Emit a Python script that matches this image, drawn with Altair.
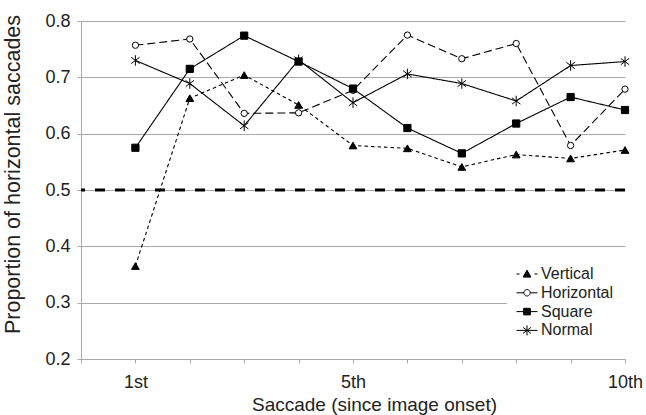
import math
import altair as alt
import pandas as pd

# ---------------- data ----------------
saccade = [1, 2, 3, 4, 5, 6, 7, 8, 9, 10]
series_names = ["Vertical", "Horizontal", "Square", "Normal"]
vertical = [0.365, 0.663, 0.704, 0.651, 0.579, 0.574, 0.541, 0.563, 0.556, 0.571]
horizontal = [0.757, 0.768, 0.636, 0.637, 0.677, 0.775, 0.733, 0.760, 0.579, 0.679]
square = [0.575, 0.715, 0.774, 0.728, 0.680, 0.610, 0.565, 0.618, 0.665, 0.642]
normal = [0.730, 0.689, 0.614, 0.731, 0.655, 0.706, 0.689, 0.658, 0.721, 0.728]
x_tick_values = [0, 1, 2, 3, 4, 5, 6, 7, 8, 9, 10]
x_tick_labels = {1: "1st", 5: "5th", 10: "10th"}
y_tick_values = [0.2, 0.3, 0.4, 0.5, 0.6, 0.7, 0.8]
chance_level = [0.5]

values_by_series = dict(zip(series_names, [vertical, horizontal, square, normal]))
rows = []
for name in series_names:
    for s, v in zip(saccade, values_by_series[name]):
        rows.append({"saccade": s, "value": v, "series": name})
df = pd.DataFrame(rows)

# ---------------- styles ----------------
FONT = "Liberation Sans"
GRID = "#a9a9a9"
TEXT = "#222222"
ASTERISK = "M0,-1L0,1M-0.8,-0.6L0.8,0.6M-0.8,0.6L0.8,-0.6"

# legend symbol glyphs (line sample + marker), designed in px and
# converted to symbol path units (symbolSize 225 -> 7.5 px per unit)
U = 7.5


def p(x, y):
    return f"{x / U:.3f},{y / U:.3f}"


def seg(x1, x2, y=0.0):
    return f"M{p(x1, y)}L{p(x2, y)}"


def circle(r):
    n = 24
    pts = [(r * math.cos(2 * math.pi * k / n), r * math.sin(2 * math.pi * k / n)) for k in range(n)]
    return "M" + "L".join(p(a, b) for a, b in pts) + "Z"


def solid_triangle(half_w, top, bottom):
    out = f"M{p(0, top)}L{p(half_w, bottom)}L{p(-half_w, bottom)}Z"
    y = top + 0.6
    while y < bottom:
        w = half_w * (y - top) / (bottom - top)
        out += seg(-w, w, y)
        y += 0.6
    return out


def solid_square(h):
    out = f"M{p(-h, -h)}L{p(h, -h)}L{p(h, h)}L{p(-h, h)}Z"
    y = -h + 0.6
    while y < h:
        out += seg(-h, h, y)
        y += 0.6
    return out


leg_vertical = seg(-10.5, -7.5) + seg(7.5, 10.5) + solid_triangle(3.8, -3.8, 3.0)
leg_horizontal = seg(-10.5, -3.2) + seg(3.2, 10.5) + circle(3.2)
leg_square = seg(-10.5, -3.3) + seg(3.3, 10.5) + solid_square(3.3)
leg_normal = (seg(-10.5, 10.5) + f"M{p(0, -5)}L{p(0, 5)}"
              + f"M{p(-4, -3)}L{p(4, 3)}M{p(-4, 3)}L{p(4, -3)}")
legend_paths = [leg_vertical, leg_horizontal, leg_square, leg_normal]

label_expr = " : ".join(
    f"datum.value == {k} ? '{v}'" for k, v in x_tick_labels.items()
) + " : ''"

x_enc = alt.X(
    "saccade:Q",
    scale=alt.Scale(domain=[0, 10], nice=False, zero=False),
    axis=alt.Axis(
        values=x_tick_values, labelExpr=label_expr, grid=False,
        title="Saccade (since image onset)", titleFontSize=19,
        titleX=293, titleY=51.5, titleBaseline="alphabetic", titleAlign="center",
        labelFontSize=18, labelPadding=10, tickSize=4, labelFlush=False,
        labelOverlap=False,
    ),
)
y_enc = alt.Y(
    "value:Q",
    scale=alt.Scale(domain=[0.2, 0.8], nice=False, zero=False),
    axis=alt.Axis(
        values=y_tick_values, format=".1f", grid=True,
        title="Proportion of horizontal saccades", titleFontSize=21.5,
        titleX=-57, titleY=153, titleAngle=270, titleAlign="center",
        titleBaseline="bottom",
        labelFontSize=18, labelPadding=7, tickSize=4,
    ),
)

base = alt.Chart(df)

chance = alt.Chart(pd.DataFrame({"level": chance_level})).mark_rule(
    color="black", strokeWidth=3, strokeDash=[10, 10], strokeCap="butt"
).encode(y=alt.Y("level:Q"))

line_dashes = {
    "Vertical": [3.5, 3],
    "Horizontal": [8, 4],
    "Square": [1, 0],
    "Normal": [1, 0],
}
line_layers = []
for name in series_names:
    line_layers.append(
        base.transform_filter(alt.datum.series == name).mark_line(
            color="black", strokeWidth=1.1, strokeDash=line_dashes[name]
        ).encode(x=x_enc, y=y_enc)
    )

marker_styles = {
    "Vertical": dict(shape="triangle-up", filled=True, fill="black", size=60),
    "Horizontal": dict(shape="circle", filled=True, fill="white", size=40),
    "Square": dict(shape="square", filled=True, fill="black", size=52),
    "Normal": dict(shape=ASTERISK, filled=False, fill="transparent", size=110),
}
point_layers = []
for name in series_names:
    st = marker_styles[name]
    point_layers.append(
        base.transform_filter(alt.datum.series == name).mark_point(
            stroke="black", strokeWidth=1, opacity=1, **st
        ).encode(x=x_enc, y=y_enc)
    )

legend_layer = base.mark_point(
    filled=False, color="black", strokeWidth=1, opacity=0
).encode(
    x=x_enc, y=y_enc,
    shape=alt.Shape(
        "series:N",
        scale=alt.Scale(domain=series_names, range=legend_paths),
        legend=alt.Legend(
            title=None, orient="none", legendX=426, legendY=233,
            symbolSize=225, symbolStrokeWidth=1, symbolStrokeColor="black",
            symbolOpacity=1,
            labelFont=FONT, labelFontSize=16, labelColor=TEXT,
            rowPadding=2.8, labelOffset=6, padding=12, fillColor="white",
        ),
    ),
)

chart = alt.layer(chance, *line_layers, *point_layers, legend_layer).properties(
    width=544, height=338,
    padding={"left": 81, "top": 21, "right": 21, "bottom": 56},
    autosize=alt.AutoSizeParams(type="none"),
    background="white",
).configure_view(stroke=None).configure_axis(
    labelFont=FONT, titleFont=FONT, labelColor=TEXT, titleColor=TEXT,
    titleFontWeight="normal", domainColor=GRID, tickColor=GRID, gridColor=GRID,
    domainWidth=1, tickWidth=1, gridWidth=1,
)

chart.save("out.html", embed_options={"renderer": "svg", "actions": False})
